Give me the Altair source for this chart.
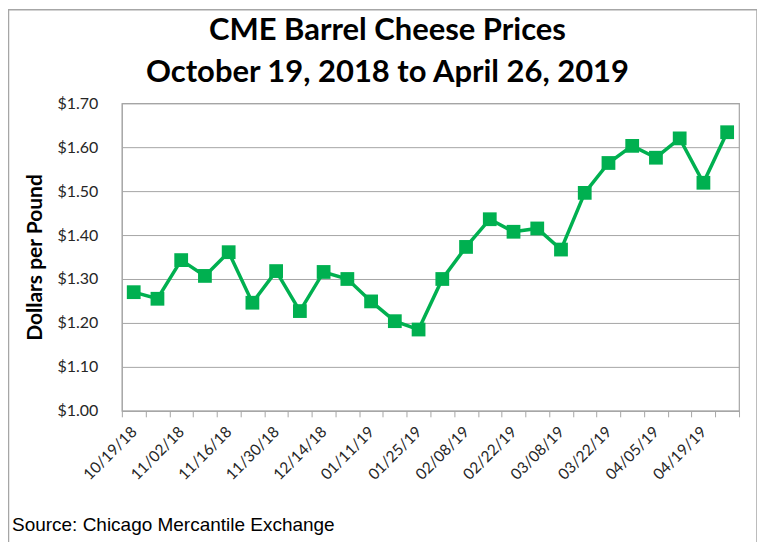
import altair as alt
import pandas as pd

# ---- data ----
dates = ["10/19/18", "10/26/18", "11/02/18", "11/09/18", "11/16/18", "11/23/18",
         "11/30/18", "12/07/18", "12/14/18", "12/21/18", "01/11/19", "01/18/19",
         "01/25/19", "02/01/19", "02/08/19", "02/15/19", "02/22/19", "03/01/19",
         "03/08/19", "03/15/19", "03/22/19", "03/29/19", "04/05/19", "04/12/19",
         "04/19/19", "04/26/19"]
prices = [1.270, 1.255, 1.343, 1.307, 1.361, 1.246, 1.318, 1.227, 1.316, 1.300,
          1.249, 1.204, 1.185, 1.300, 1.373, 1.436, 1.4075, 1.415, 1.367, 1.496,
          1.564, 1.603, 1.576, 1.620, 1.519, 1.634]
shown_labels = dates[::2]
title_lines = ["CME Barrel Cheese Prices", "October 19, 2018 to April 26, 2019"]
y_title = "Dollars per Pound"
source_note = ["Source: Chicago Mercantile Exchange"]

df = pd.DataFrame({"date": dates, "price": prices})

W, H = 618, 308
GREEN = "#00B050"
GRAY = "#a6a6a6"

label_list = "[" + ",".join("'" + s + "'" for s in shown_labels) + "]"

x_enc = alt.X(
    "date:O",
    sort=dates,
    title=None,
    scale=alt.Scale(type="band", paddingInner=0, paddingOuter=0),
    axis=alt.Axis(
        labelAngle=-45,
        labelAlign="right",
        labelBaseline="middle",
        labelExpr=f"indexof({label_list}, datum.value) >= 0 ? datum.label : ''",
        labelFont="Lato",
        labelFontSize=15.5,
        labelColor="#262626",
        labelPadding=12,
        tickBand="extent",
        tickSize=6,
        tickColor=GRAY,
        domainColor=GRAY,
        grid=False,
        labelOverlap=False,
    ),
)
y_enc = alt.Y(
    "price:Q",
    title=y_title,
    scale=alt.Scale(domain=[1.0, 1.7], nice=False, zero=False),
    axis=alt.Axis(
        values=[1.0, 1.1, 1.2, 1.3, 1.4, 1.5, 1.6, 1.7],
        format="$.2f",
        labelFont="Lato",
        labelFontSize=16,
        labelColor="#262626",
        labelPadding=24,
        ticks=False,
        domainColor=GRAY,
        gridColor=GRAY,
        gridWidth=1,
        titleFont="Lato",
        titleFontSize=21,
        titleFontWeight="bold",
        titleColor="#000000",
        titlePadding=12,
    ),
)

base = alt.Chart(df)
line = base.mark_line(color=GREEN, strokeWidth=3.5).encode(x=x_enc, y=y_enc)
pts = base.mark_point(shape="square", filled=True, opacity=1, color=GREEN, size=190).encode(x=x_enc, y=y_enc)

tdf = pd.DataFrame({"t": title_lines, "yy": [-63, -21]})
titles = alt.Chart(tdf).mark_text(
    font="Lato", fontSize=31, fontWeight="bold", color="#000000",
    align="center", baseline="alphabetic"
).encode(x=alt.value(266), y=alt.Y("yy:Q", scale=None), text="t:N")

sdf = pd.DataFrame({"t": source_note})
source = alt.Chart(sdf).mark_text(
    font="Liberation Sans", fontSize=19, color="#000000", align="left", baseline="alphabetic"
).encode(x=alt.value(-110), y=alt.value(428), text="t:N")

bdf = pd.DataFrame({"k": [0]})
border = alt.Chart(bdf).mark_rect(fillOpacity=0, stroke=GRAY, strokeWidth=1.5).encode(
    x=alt.value(-113.5), x2=alt.value(636), y=alt.value(-93.5), y2=alt.value(460)
)

chart = alt.layer(border, line, pts, titles, source).properties(
    width=W, height=H,
    autosize=alt.AutoSizeParams(type="none"),
    padding={"left": 114, "top": 95, "right": 18, "bottom": 131},
    background="white",
).configure_view(stroke=GRAY, strokeWidth=1.2)

chart.save("out.html", embed_options={"renderer": "svg", "actions": False})
